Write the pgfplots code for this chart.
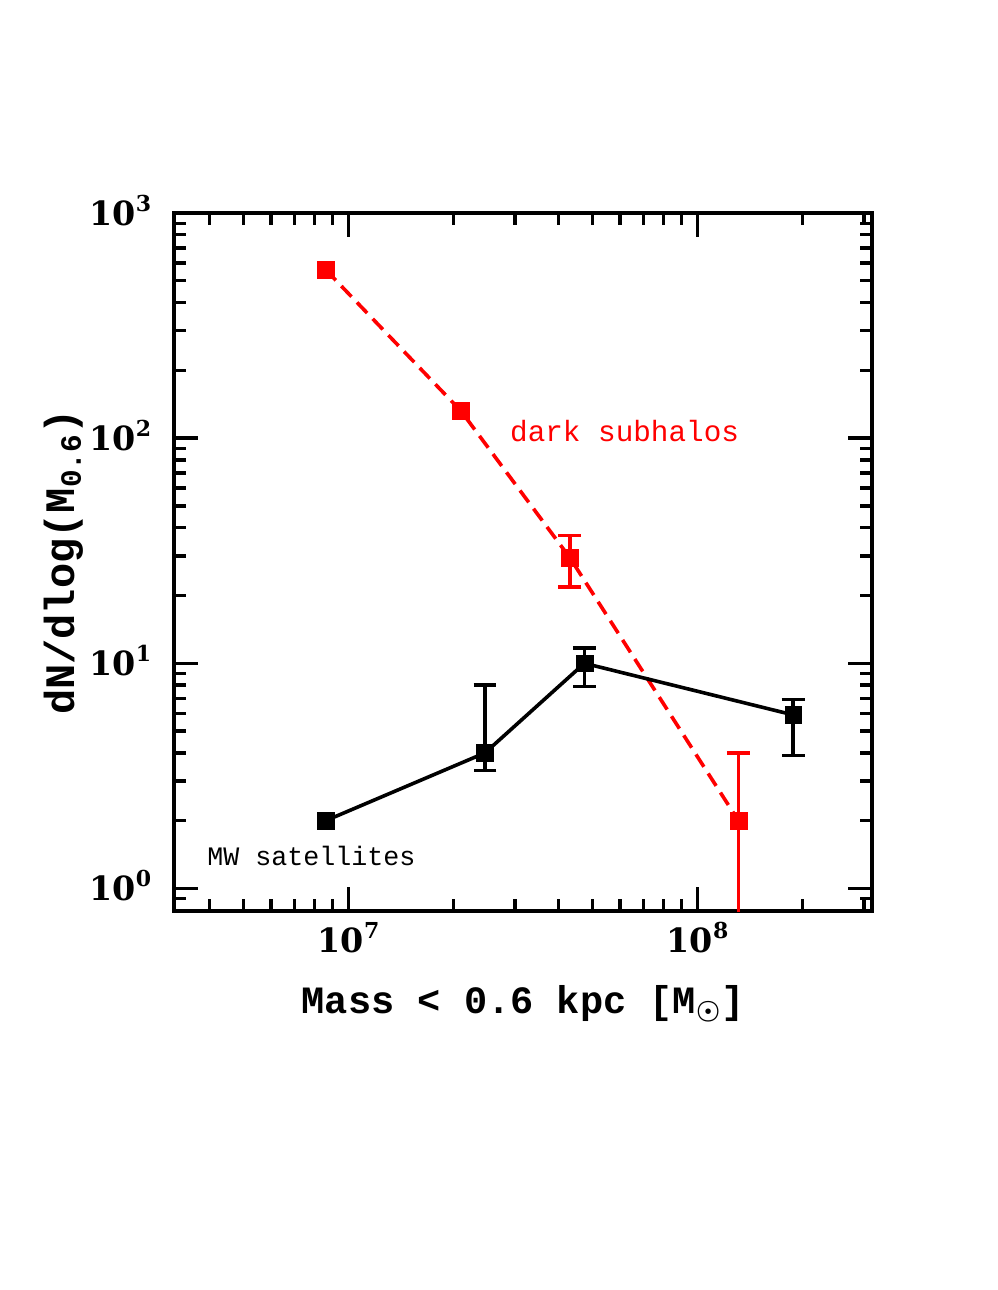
\documentclass[border=0pt]{standalone}
\usepackage{fix-cm}
\usepackage{fontspec}
\setmainfont{Liberation Serif}
\newfontfamily\monof{Liberation Mono}
\newfontfamily\tickf{DejaVu Serif}
\usepackage{pgfplots}
\pgfplotsset{compat=1.18}
\newcommand{\tlab}[1]{{\tickf\bfseries\fontsize{25}{28}\selectfont 10\raisebox{0.42em}{\fontsize{16.5}{18}\selectfont #1}}}

\begin{document}
\begin{tikzpicture}
\path[use as bounding box] (-130.5pt,-284.25pt) rectangle (617.25pt,683.25pt);
\begin{axis}[
  at={(0,0)}, anchor=south west,
  scale only axis, width=523.5pt, height=523.5pt,
  xmode=log, ymode=log,
  xmin=3.1623e6, xmax=3.1623e8, ymin=0.7943, ymax=1000,
  xtick={1e7,1e8}, xticklabels={\tlab{7},\tlab{8}},
  ytick={1,10,100,1000}, yticklabels={\tlab{0},\tlab{1},\tlab{2},\tlab{3}},
  minor xtick={4e6,5e6,6e6,7e6,8e6,9e6,2e7,3e7,4e7,5e7,6e7,7e7,8e7,9e7,2e8,3e8},
  minor ytick={0.9,2,3,4,5,6,7,8,9,20,30,40,50,60,70,80,90,200,300,400,500,600,700,800,900},
  axis line style={line width=3pt},
  tick style={line width=2.5pt, black},
  major tick length=18pt, minor tick length=9pt,
  xticklabel style={anchor=base, inner sep=0pt, yshift=-31pt},
  yticklabel style={anchor=base east, inner sep=0pt, xshift=-17pt, yshift=-9pt},
  xlabel={\monof\bfseries\fontsize{29}{32}\selectfont Mass < 0.6 kpc [M{\boldmath$_{\odot}$}]},
  ylabel={\monof\bfseries\fontsize{31.5}{34}\selectfont dN/dlog(M\textsubscript{0.6})},
  xlabel style={at={(axis description cs:0.5,-0.133)}, anchor=center},
  ylabel style={at={(axis description cs:-0.158,0.5)}, anchor=center},
]
% dark subhalos
\addplot[red, line width=2.7pt, dash pattern=on 11pt off 6pt, mark=square*, mark size=6.3pt, mark options={solid, line width=0.4pt}]
  coordinates {(8.6e6,560) (2.1e7,132) (4.31e7,29.4) (1.31e8,2)};
\addplot[red, only marks, mark=square*, mark size=6.3pt, mark options={line width=0.4pt},
  error bars/.cd, y dir=both, y explicit,
  error bar style={solid, line width=2.6pt},
  error mark options={rotate=90, solid, line width=2.6pt, mark size=8.6pt}]
  coordinates {(4.31e7,29.4) += (0,7.6) -= (0,7.6)
               (1.31e8,2) += (0,2) -= (0,1.99)};
% MW satellites
\addplot[black, line width=2.7pt, mark=square*, mark size=6.3pt, mark options={line width=0.4pt}]
  coordinates {(8.6e6,2) (2.46e7,4) (4.74e7,10) (1.88e8,5.9)};
\addplot[black, only marks, mark=square*, mark size=6.3pt, mark options={line width=0.4pt},
  error bars/.cd, y dir=both, y explicit,
  error bar style={solid, line width=2.6pt},
  error mark options={rotate=90, solid, line width=2.6pt, mark size=8.6pt}]
  coordinates {(2.46e7,4) += (0,4) -= (0,0.66)
               (4.74e7,10) += (0,1.7) -= (0,2.1)
               (1.88e8,5.9) += (0,1.0) -= (0,2.0)};
\node[red, font=\monof\fontsize{22}{24}\selectfont] at (axis cs:6.18e7,107) {dark subhalos};
\node[black, font=\monof\fontsize{20}{22}\selectfont] at (axis cs:7.83e6,1.40) {MW satellites};
\end{axis}
\end{tikzpicture}
\end{document}
